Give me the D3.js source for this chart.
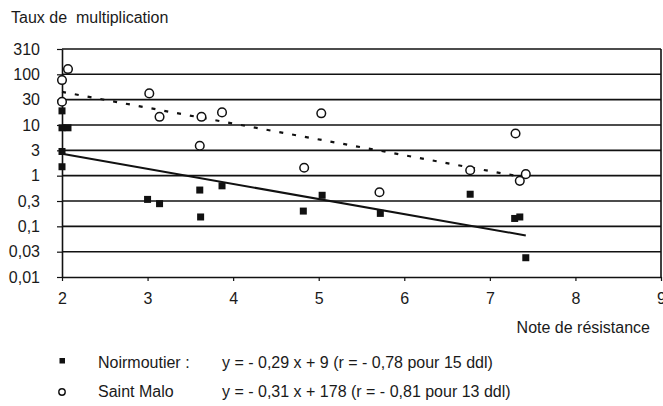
<!DOCTYPE html>
<html><head><meta charset="utf-8">
<script src="https://cdn.jsdelivr.net/npm/d3@7"></script>
<style>
body{margin:0;background:#fff;}
text{font-family:"Liberation Sans",Arial,sans-serif;fill:#1a1a1a;}
</style></head>
<body><svg id="c" width="663" height="406"></svg>
<script>
// Data
const noirX = [2, 2, 2.07, 2, 2, 3.0, 3.14, 3.61, 3.62, 3.87, 4.82, 5.04, 5.72, 6.77, 7.29, 7.35, 7.42];
const noirY = [19, 8.8, 8.8, 3.0, 1.5, 0.34, 0.28, 0.52, 0.153, 0.63, 0.20, 0.41, 0.18, 0.43, 0.143, 0.153, 0.024];
const maloX = [2.07, 2, 2, 3.02, 3.14, 3.63, 3.61, 3.87, 4.83, 5.03, 5.71, 6.77, 7.30, 7.35, 7.42];
const maloY = [127, 77, 28.7, 42, 14.5, 14.5, 3.9, 17.7, 1.43, 17, 0.47, 1.28, 6.8, 0.79, 1.07];
const noirFitX = [2, 7.42];
const noirFitY = [2.7, 0.066];
const maloFitX = [2, 7.36];
const maloFitY = [45, 0.95];
const yTickValues = [0.01, 0.0316, 0.1, 0.316, 1, 3.16, 10, 31.6, 100, 316];
const yTickLabels = ["0,01","0,03","0,1","0,3","1","3","10","30","100","310"];
const xTickValues = [2,3,4,5,6,7,8,9];

const svg = d3.select("#c");
const L = 62, R = 661, T = 49, B = 277;
const x = d3.scaleLinear().domain([2, 9]).range([L, R]);
const y = d3.scaleLog().domain([0.01, 316]).range([B, T]);

// gridlines
svg.append("g").selectAll("line").data(yTickValues.slice(1)).join("line")
  .attr("x1", L).attr("x2", R).attr("y1", d => y(d)).attr("y2", d => y(d))
  .attr("stroke", "#111").attr("stroke-width", 1.6);
// right border
svg.append("line").attr("x1", R).attr("x2", R).attr("y1", T).attr("y2", B)
  .attr("stroke", "#111").attr("stroke-width", 1.6);

// y axis
const yAxis = svg.append("g").attr("transform", `translate(${L},0)`)
  .call(d3.axisLeft(y).tickValues(yTickValues).tickFormat((d, i) => yTickLabels[i]).tickSizeInner(5).tickSizeOuter(0).tickPadding(17));
yAxis.select(".domain").attr("stroke", "#111").attr("stroke-width", 1.6);
yAxis.selectAll(".tick line").attr("stroke", "#111").attr("stroke-width", 1.2);
yAxis.selectAll("text").style("font-size", "16px").attr("fill", "#1a1a1a");

// x axis
const xAxis = svg.append("g").attr("transform", `translate(0,${B})`)
  .call(d3.axisBottom(x).tickValues(xTickValues).tickFormat(d3.format("d")).tickSizeInner(4).tickSizeOuter(0).tickPadding(12));
xAxis.select(".domain").attr("stroke", "#111").attr("stroke-width", 1.6);
xAxis.selectAll(".tick line").attr("stroke", "#111").attr("stroke-width", 1.2);
xAxis.selectAll("text").style("font-size", "16px").attr("fill", "#1a1a1a");

// fit lines
const line = d3.line().x(d => x(d[0])).y(d => y(d[1]));
svg.append("path").attr("d", line(noirFitX.map((v, i) => [v, noirFitY[i]])))
  .attr("fill", "none").attr("stroke", "#111").attr("stroke-width", 2);
svg.append("path").attr("d", line(maloFitX.map((v, i) => [v, maloFitY[i]])))
  .attr("fill", "none").attr("stroke", "#111").attr("stroke-width", 2.2).attr("stroke-dasharray", "4,9");

// squares
svg.append("g").selectAll("rect").data(noirX.map((v, i) => [v, noirY[i]])).join("rect")
  .attr("x", d => x(d[0]) - 3.5).attr("y", d => y(d[1]) - 3.5).attr("width", 7).attr("height", 7)
  .attr("fill", "#111");
// circles
svg.append("g").selectAll("circle").data(maloX.map((v, i) => [v, maloY[i]])).join("circle")
  .attr("cx", d => x(d[0])).attr("cy", d => y(d[1])).attr("r", 4.3)
  .attr("fill", "#fff").attr("stroke", "#111").attr("stroke-width", 1.5);

// titles
svg.append("text").attr("x", 11).attr("y", 23).style("font-size", "16px").attr("xml:space", "preserve").text("Taux de  multiplication");
svg.append("text").attr("x", 650).attr("y", 333).attr("text-anchor", "end").style("font-size", "16px").text("Note de résistance");

// legend
svg.append("rect").attr("x", 59.5).attr("y", 358).attr("width", 5.5).attr("height", 5.5).attr("fill", "#111");
svg.append("circle").attr("cx", 62).attr("cy", 392).attr("r", 3.2).attr("fill", "#fff").attr("stroke", "#111").attr("stroke-width", 1.4);
const leg = [["Noirmoutier :", "y = - 0,29 x + 9 (r = - 0,78 pour 15 ddl)", 368],
             ["Saint Malo", "y = - 0,31 x + 178 (r = - 0,81 pour 13 ddl)", 397]];
leg.forEach(r => {
  svg.append("text").attr("x", 98).attr("y", r[2]).style("font-size", "16px").text(r[0]);
  svg.append("text").attr("x", 222).attr("y", r[2]).style("font-size", "16px").text(r[1]);
});
</script></body></html>
